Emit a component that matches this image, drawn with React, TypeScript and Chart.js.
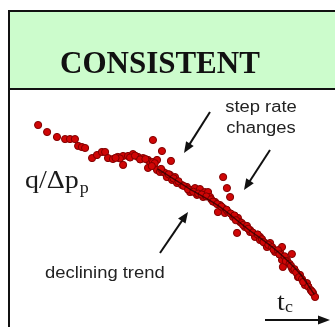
import React, { useEffect, useRef } from "react";
import { Chart, registerables } from "chart.js";
Chart.register(...registerables);

const TITLE = "CONSISTENT";
const Y_LABEL = "q/Δp";
const Y_SUB = "p";
const X_LABEL = "t";
const X_SUB = "c";
const STEP_LABEL = ["step rate", "changes"];
const TREND_LABEL = "declining trend";

// normalized time (x) values of the scatter points
const tc: number[] = [
  0.28, 0.59, 0.93, 1.21, 1.38, 1.55, 1.66, 1.79, 1.9, 2.14, 2.31, 2.48, 2.59, 2.69, 2.86, 3.03, 3.21, 3.21, 3.38, 3.55,
  3.72, 3.9, 4.07, 4.14, 4.24, 4.38, 3.1, 3.45, 3.62, 3.8, 3.98, 4.3, 2.95,
  4.24, 4.55, 4.86, 6.66, 6.79, 6.9, 7.14, 9.03,
  4.07, 4.38, 4.48, 4.59, 4.66, 4.72, 4.83, 4.9, 5.0, 5.07, 5.24, 5.41, 5.52, 5.59, 5.69, 5.76, 5.86, 5.97, 6.03, 6.14,
  6.21, 6.38, 6.48, 6.55, 6.66, 6.72, 6.83, 7.0, 7.17, 7.24, 7.41, 7.59, 7.59, 7.76, 7.76, 7.93, 7.93, 8.1, 8.17, 8.28,
  8.45, 8.62, 8.69, 8.69, 8.72, 8.86, 9.03, 9.07, 9.24, 9.31, 9.48, 9.55, 9.76, 9.83,
  4.2, 4.52, 4.78, 4.95, 5.12, 5.3, 5.45, 5.63, 5.8, 5.92, 6.08, 6.25, 6.31, 6.45, 6.6, 6.78, 6.92, 7.05, 7.1, 7.3, 7.35,
  7.48, 7.52, 7.68, 7.85, 8.0, 8.05, 8.22, 8.35, 8.4, 8.55, 8.6, 8.78, 8.82, 8.95, 9.0, 9.12, 9.18, 9.28, 9.38, 9.42,
  9.6, 9.68, 9.72,
];
// normalized rate-normalized (q/Δp) values of the scatter points
const qdp: number[] = [
  9.21, 8.84, 8.58, 8.47, 8.47, 8.47, 8.11, 8.05, 8.0, 7.47, 7.63, 7.79, 7.79, 7.47, 7.42, 7.53, 7.58, 7.11, 7.58, 7.68,
  7.53, 7.47, 7.37, 7.26, 7.26, 7.37, 7.45, 7.5, 7.6, 7.4, 7.42, 7.2, 7.48,
  8.42, 7.84, 7.32, 6.47, 5.89, 5.42, 3.53, 2.42,
  6.95, 6.84, 6.74, 6.74, 6.68, 6.47, 6.58, 6.32, 6.47, 6.16, 6.05, 5.95, 5.68, 5.79, 5.89, 5.53, 5.84, 5.42, 5.68, 5.68,
  5.42, 5.16, 4.63, 5.0, 4.84, 4.58, 4.63, 4.37, 4.32, 4.11, 3.84, 3.68, 3.58, 3.42, 3.32, 3.32, 3.16, 3.0, 2.79, 3.0,
  2.53, 2.53, 2.79, 2.11, 1.74, 2.11, 1.68, 1.58, 1.21, 1.32, 0.79, 0.89, 0.37, 0.16,
  7.05, 6.9, 6.62, 6.4, 6.25, 6.0, 5.82, 5.7, 5.6, 5.55, 5.45, 5.3, 5.18, 5.05, 4.92, 4.75, 4.55, 4.45, 4.2, 4.05, 3.95,
  3.9, 3.75, 3.55, 3.45, 3.2, 3.05, 2.9, 2.78, 2.65, 2.62, 2.4, 2.3, 2.05, 1.9, 1.8, 1.62, 1.45, 1.2, 1.1, 0.95,
  0.7, 0.52, 0.45,
];

const trendT: number[] = [4.4, 5.5, 6.5, 7.5, 8.5, 9.3, 9.8];
const trendQ: number[] = [6.9, 5.85, 4.95, 3.75, 2.6, 1.4, 0.3];

function stretchText(ctx: CanvasRenderingContext2D, text: string, x: number, y: number, font: string, align: CanvasTextAlign, sx = 1.15) {
  ctx.save();
  ctx.translate(x, y);
  ctx.scale(sx, 1);
  ctx.font = font;
  ctx.textAlign = align;
  ctx.textBaseline = "alphabetic";
  ctx.fillText(text, 0, 0);
  ctx.restore();
}

function arrow(ctx: CanvasRenderingContext2D, x1: number, y1: number, x2: number, y2: number, head = 11, half = 4.5, w = 2) {
  const a = Math.atan2(y2 - y1, x2 - x1);
  const bx = x2 - head * Math.cos(a);
  const by = y2 - head * Math.sin(a);
  ctx.save();
  ctx.strokeStyle = "#111";
  ctx.fillStyle = "#111";
  ctx.lineWidth = w;
  ctx.beginPath();
  ctx.moveTo(x1, y1);
  ctx.lineTo(bx + 2 * Math.cos(a), by + 2 * Math.sin(a));
  ctx.stroke();
  ctx.beginPath();
  ctx.moveTo(x2, y2);
  ctx.lineTo(bx + half * Math.sin(a), by - half * Math.cos(a));
  ctx.lineTo(bx - half * Math.sin(a), by + half * Math.cos(a));
  ctx.closePath();
  ctx.fill();
  ctx.restore();
}

const decor = {
  id: "decor",
  beforeDraw(chart: any) {
    const ctx: CanvasRenderingContext2D = chart.ctx;
    ctx.save();
    ctx.fillStyle = "#ccfccc";
    ctx.fillRect(9, 11, 330, 78);
    ctx.strokeStyle = "#111";
    ctx.lineWidth = 2;
    ctx.beginPath();
    ctx.moveTo(340, 11);
    ctx.lineTo(9, 11);
    ctx.lineTo(9, 330);
    ctx.moveTo(9, 89);
    ctx.lineTo(340, 89);
    ctx.stroke();
    ctx.fillStyle = "#111";
    ctx.font = "bold 31px 'Liberation Serif'";
    ctx.textBaseline = "alphabetic";
    ctx.textAlign = "left";
    ctx.fillText(TITLE, 60, 73);
    ctx.restore();
  },
  afterDraw(chart: any) {
    const ctx: CanvasRenderingContext2D = chart.ctx;
    ctx.save();
    ctx.fillStyle = "#1a1a1a";
    stretchText(ctx, Y_LABEL, 25, 188, "25px 'Liberation Serif'", "left", 1.12);
    ctx.font = "25px 'Liberation Serif'";
    const w = ctx.measureText(Y_LABEL).width * 1.12;
    stretchText(ctx, Y_SUB, 25 + w + 1, 193, "16px 'Liberation Serif'", "left", 1.12);
    stretchText(ctx, X_LABEL, 277, 310, "25px 'Liberation Serif'", "left", 1.12);
    stretchText(ctx, X_SUB, 285, 312, "16px 'Liberation Serif'", "left", 1.12);
    ctx.fillStyle = "#222";
    stretchText(ctx, STEP_LABEL[0], 261, 112, "16px 'Liberation Sans'", "center");
    stretchText(ctx, STEP_LABEL[1], 261, 133, "16px 'Liberation Sans'", "center");
    stretchText(ctx, TREND_LABEL, 45, 278, "16px 'Liberation Sans'", "left");
    arrow(ctx, 210, 112, 184, 153);
    arrow(ctx, 270, 150, 244, 190);
    arrow(ctx, 160, 253, 188, 212);
    arrow(ctx, 265, 320, 330, 320, 12, 4.5, 2);
    ctx.restore();
  },
};

export default function App() {
  const ref = useRef<HTMLCanvasElement | null>(null);
  useEffect(() => {
    if (!ref.current) return;
    const chart = new Chart(ref.current, {
      type: "scatter",
      data: {
        datasets: [
          {
            type: "line",
            data: trendT.map((t, i) => ({ x: t, y: trendQ[i] })),
            borderColor: "rgba(30,0,0,0.7)",
            borderWidth: 1.5,
            pointRadius: 0,
            tension: 0.3,
            order: 0,
            clip: false,
          } as any,
          {
            data: tc.map((t, i) => ({ x: t, y: qdp[i] })),
            backgroundColor: "#cf0606",
            borderColor: "#7e0000",
            borderWidth: 1,
            pointRadius: 3.6,
            order: 1,
            clip: false,
          } as any,
        ],
      },
      options: {
        animation: false,
        responsive: false,
        maintainAspectRatio: false,
        layout: { padding: { left: 30, right: 15, top: 110, bottom: 27 } },
        plugins: { legend: { display: false }, tooltip: { enabled: false }, title: { display: false } },
        scales: {
          x: { type: "linear", min: 0, max: 10, display: false },
          y: { type: "linear", min: 0, max: 10, display: false },
        },
      },
      plugins: [decor],
    });
    return () => chart.destroy();
  }, []);
  return (
    <div style={{ position: "absolute", left: 0, top: 0, width: 335, height: 327, background: "#fff" }}>
      <canvas ref={ref} width={335} height={327} style={{ width: 335, height: 327, display: "block" }} />
    </div>
  );
}
